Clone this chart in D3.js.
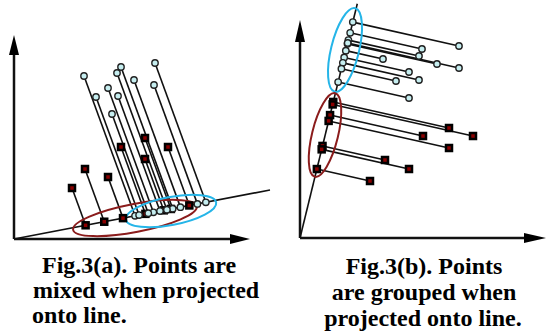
<!DOCTYPE html>
<html>
<head>
<meta charset="utf-8">
<script src="https://cdn.jsdelivr.net/npm/d3@7"></script>
<style>
  body { margin: 0; background: #fff; }
  svg { display: block; }
</style>
</head>
<body>
<script>
// panel (a): points in data units, projected onto a line along a slanted direction
const aCircles = [[70,163],[107,172],[103,166],[141,176],[120,159],[140,154],[82,142],[94,151],[104,143],[98,125]];
const aSquares = [[58,51],[71,70],[94,62],[107,92],[131,101],[131,80],[154,92]];
const aLineDir = [256, 49];
const aProjDir = [0.365, -1];
const aEllipses = [
  {c: [121, 21], rx: 63, ry: 14, color: '#8b1c1c'},
  {c: [157, 28], rx: 46, ry: 14, color: '#25b5e8'}
];

// panel (b)
const bCircles = [[159,192],[122,189],[119,182],[83,179],[137,174],[159,170],[109,166],[119,158],[96,157],[109,140]];
const bSquares = [[149,110],[173,102],[123,102],[149,90],[85,78],[109,69],[70,57]];
const bLineDir = [57.3, 234.3];
const bProjDir = [1, -0.225];
const bEllipses = [
  {c: [45, 188], rx: 43, ry: 14, color: '#25b5e8'},
  {c: [25, 103], rx: 43, ry: 13, color: '#8b1c1c'}
];

const captionA = ['Fig.3(a). Points are', 'mixed when projected', 'onto line.'];
const captionB = ['Fig.3(b). Points', 'are grouped when', 'projected onto line.'];

const W = 546, H = 336;
const svg = d3.select(document.body).append('svg')
  .attr('width', W)
  .attr('height', H);

function cross(a, b) { return a[0] * b[1] - a[1] * b[0]; }

function panel(opts) {
  const x = d3.scaleLinear().domain(opts.xDomain).range(opts.xRange);
  const y = d3.scaleLinear().domain(opts.yDomain).range(opts.yRange);
  const g = svg.append('g');
  const u = opts.lineDir, d = opts.projDir;
  const proj = p => {
    const t = cross(p, d) / cross(u, d);
    return [t * u[0], t * u[1]];
  };

  // axes with arrowheads
  const x0 = x(0), y0 = y(0);
  const xEnd = x(opts.xDomain[1]), yEnd = y(opts.yDomain[1]);
  const ah = opts.arrow;
  g.append('line').attr('x1', x0).attr('y1', y0).attr('x2', xEnd - ah.len + 2).attr('y2', y0)
    .attr('stroke', '#111').attr('stroke-width', 2.5);
  g.append('line').attr('x1', x0).attr('y1', y0).attr('x2', x0).attr('y2', yEnd + ah.len - 2)
    .attr('stroke', '#111').attr('stroke-width', 2.5);
  g.append('path')
    .attr('d', `M${xEnd},${y0} L${xEnd - ah.len},${y0 - ah.half} L${xEnd - ah.len},${y0 + ah.half} Z`)
    .attr('fill', '#000');
  g.append('path')
    .attr('d', `M${x0},${yEnd} L${x0 - ah.half},${yEnd + ah.len} L${x0 + ah.half},${yEnd + ah.len} Z`)
    .attr('fill', '#000');

  // projection line
  g.append('line')
    .attr('x1', x(0)).attr('y1', y(0))
    .attr('x2', x(u[0] * opts.lineLen)).attr('y2', y(u[1] * opts.lineLen))
    .attr('stroke', '#111').attr('stroke-width', 1.6);

  const all = opts.circles.map(p => ({p, kind: 'c'})).concat(opts.squares.map(p => ({p, kind: 's'})));

  g.selectAll('line.conn')
    .data(all)
    .enter().append('line')
    .attr('class', 'conn')
    .attr('x1', e => x(e.p[0])).attr('y1', e => y(e.p[1]))
    .attr('x2', e => x(proj(e.p)[0])).attr('y2', e => y(proj(e.p)[1]))
    .attr('stroke', '#111').attr('stroke-width', 1.6);

  const ang = Math.atan2(y(u[1]) - y(0), x(u[0]) - x(0)) * 180 / Math.PI;
  g.selectAll('ellipse')
    .data(opts.ellipses)
    .enter().append('ellipse')
    .attr('transform', e => `translate(${x(e.c[0])},${y(e.c[1])}) rotate(${ang})`)
    .attr('rx', e => e.rx).attr('ry', e => e.ry)
    .attr('fill', 'none').attr('stroke', e => e.color).attr('stroke-width', 2);

  const pts = all.map(e => ({p: e.p, kind: e.kind}))
    .concat(all.map(e => ({p: proj(e.p), kind: e.kind})));

  g.selectAll('rect.sq')
    .data(pts.filter(e => e.kind === 's'))
    .enter().append('rect')
    .attr('class', 'sq')
    .attr('x', e => x(e.p[0]) - 3).attr('y', e => y(e.p[1]) - 3)
    .attr('width', 6).attr('height', 6)
    .attr('fill', '#8b0000').attr('stroke', '#000').attr('stroke-width', 2.5);

  g.selectAll('circle')
    .data(pts.filter(e => e.kind === 'c'))
    .enter().append('circle')
    .attr('cx', e => x(e.p[0])).attr('cy', e => y(e.p[1]))
    .attr('r', 3.2)
    .attr('fill', '#c6eef0').attr('stroke', '#222').attr('stroke-width', 1.4);

  g.selectAll('text')
    .data(opts.caption)
    .enter().append('text')
    .style('font-family', "'Liberation Serif', 'Times New Roman', serif")
    .style('font-weight', 'bold')
    .style('font-size', '24px')
    .attr('fill', '#000')
    .attr('x', (t, i) => opts.capX[i])
    .attr('y', (t, i) => opts.capY[i])
    .attr('text-anchor', opts.capAnchor)
    .text(t => t);
}

panel({
  xDomain: [0, 236], xRange: [14, 250],
  yDomain: [0, 204], yRange: [239, 35],
  lineDir: aLineDir, projDir: aProjDir, lineLen: 1,
  circles: aCircles, squares: aSquares, ellipses: aEllipses,
  arrow: {len: 20, half: 5},
  caption: captionA, capX: [42, 33, 32], capY: [273, 298, 323], capAnchor: 'start'
});

panel({
  xDomain: [0, 246], xRange: [300, 546],
  yDomain: [0, 218], yRange: [238, 20],
  lineDir: bLineDir, projDir: bProjDir, lineLen: 1,
  circles: bCircles, squares: bSquares, ellipses: bEllipses,
  arrow: {len: 22, half: 5},
  caption: captionB, capX: [424, 424, 423], capY: [274, 300, 326], capAnchor: 'middle'
});
</script>
</body>
</html>
